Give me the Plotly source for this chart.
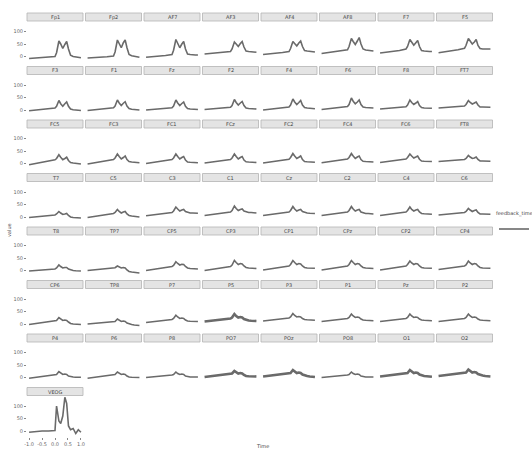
import plotly.graph_objects as go

times = [-1.0, -0.75, -0.5, -0.25, 0.0, 0.06, 0.15, 0.22, 0.3, 0.38, 0.45, 0.52, 0.6, 0.7, 0.8, 0.9, 1.0]

channels = ["Fp1", "Fp2", "AF7", "AF3", "AF4", "AF8", "F7", "F5",
            "F3", "F1", "Fz", "F2", "F4", "F6", "F8", "FT7",
            "FC5", "FC3", "FC1", "FCz", "FC2", "FC4", "FC6", "FT8",
            "T7", "C5", "C3", "C1", "Cz", "C2", "C4", "C6",
            "T8", "TP7", "CP5", "CP3", "CP1", "CPz", "CP2", "CP4",
            "CP6", "TP8", "P7", "P5", "P3", "P1", "Pz", "P2",
            "P4", "P6", "P8", "PO7", "POz", "PO8", "O1", "O2",
            "VEOG"]

values = {
    "Fp1": [-8, -6, -4, -2, 0, 15, 62, 50, 32, 48, 60, 30, 5, 0, -2, -3, -5],
    "Fp2": [-6, -5, -3, -1, 2, 18, 66, 52, 35, 55, 66, 35, 8, 3, 0, -1, -3],
    "AF7": [-3, -1, 1, 4, 8, 25, 68, 55, 35, 50, 60, 30, 10, 8, 6, 6, 6],
    "AF3": [10, 12, 14, 16, 20, 30, 58, 50, 40, 52, 60, 38, 22, 20, 18, 18, 17],
    "AF4": [8, 10, 12, 16, 20, 32, 60, 50, 42, 54, 62, 40, 24, 22, 20, 20, 18],
    "AF8": [12, 15, 18, 22, 27, 40, 72, 60, 48, 62, 76, 50, 30, 26, 24, 22, 22],
    "F7": [14, 17, 20, 24, 30, 40, 68, 58, 45, 55, 64, 40, 24, 22, 20, 20, 20],
    "F5": [15, 18, 22, 27, 33, 45, 72, 62, 50, 58, 68, 44, 32, 30, 30, 30, 30],
    "F3": [-3, 0, 2, 5, 8, 15, 38, 25, 15, 25, 32, 15, 4, 1, 0, -1, -2],
    "F1": [-2, 1, 3, 6, 9, 16, 40, 28, 18, 27, 33, 16, 6, 3, 2, 1, 0],
    "Fz": [0, 2, 4, 6, 9, 16, 40, 28, 18, 26, 32, 15, 6, 4, 3, 3, 2],
    "F2": [2, 4, 6, 8, 11, 18, 42, 30, 20, 28, 34, 18, 8, 6, 5, 5, 4],
    "F4": [0, 3, 6, 9, 12, 20, 44, 32, 22, 30, 38, 20, 10, 8, 6, 6, 5],
    "F6": [2, 5, 8, 11, 14, 22, 48, 35, 25, 32, 40, 22, 12, 10, 9, 8, 8],
    "F8": [4, 6, 8, 10, 13, 20, 40, 30, 22, 28, 34, 18, 10, 8, 8, 7, 7],
    "FT7": [8, 10, 12, 14, 16, 22, 38, 30, 24, 28, 32, 20, 12, 12, 12, 11, 11],
    "FC5": [-5, 0, 5, 10, 15, 20, 35, 25, 15, 20, 25, 12, 4, 2, 0, -1, -2],
    "FC3": [-2, 3, 7, 11, 16, 22, 38, 28, 18, 24, 30, 16, 8, 6, 5, 4, 3],
    "FC1": [0, 4, 8, 12, 16, 22, 38, 28, 18, 24, 28, 14, 6, 5, 4, 4, 3],
    "FCz": [2, 5, 8, 12, 16, 22, 38, 28, 18, 24, 28, 14, 7, 6, 5, 5, 4],
    "FC2": [2, 5, 9, 13, 17, 24, 40, 30, 20, 25, 30, 16, 8, 7, 6, 6, 5],
    "FC4": [3, 6, 10, 14, 18, 24, 40, 30, 20, 26, 30, 16, 9, 8, 7, 7, 6],
    "FC6": [4, 7, 10, 14, 18, 24, 38, 30, 22, 26, 30, 17, 10, 9, 8, 8, 8],
    "FT8": [8, 10, 12, 14, 16, 20, 32, 26, 20, 22, 26, 16, 10, 10, 10, 9, 9],
    "T7": [-2, 0, 2, 5, 8, 12, 22, 16, 10, 12, 14, 6, 0, -2, -3, -4, -4],
    "C5": [-2, 2, 6, 10, 14, 18, 30, 22, 16, 20, 22, 12, 6, 4, 2, 1, 0],
    "C3": [5, 8, 11, 15, 18, 24, 40, 32, 24, 28, 30, 22, 18, 16, 16, 15, 15],
    "C1": [6, 9, 12, 16, 20, 26, 44, 34, 26, 30, 32, 24, 20, 18, 18, 17, 16],
    "Cz": [6, 9, 12, 16, 20, 26, 42, 32, 24, 28, 30, 22, 18, 16, 15, 14, 14],
    "C2": [6, 9, 12, 16, 20, 26, 42, 32, 24, 28, 30, 20, 16, 14, 14, 13, 12],
    "C4": [6, 9, 12, 16, 20, 26, 40, 30, 24, 28, 30, 20, 14, 13, 12, 12, 11],
    "C6": [8, 10, 12, 15, 18, 22, 34, 28, 22, 26, 28, 18, 12, 12, 12, 11, 11],
    "T8": [-2, 0, 2, 4, 6, 10, 22, 16, 10, 12, 12, 6, 2, 0, -1, -2, -2],
    "TP7": [0, 2, 4, 6, 8, 11, 18, 14, 10, 12, 10, 2, -4, -6, -8, -9, -10],
    "CP5": [0, 4, 8, 12, 16, 20, 35, 28, 22, 25, 24, 16, 10, 8, 7, 7, 6],
    "CP3": [0, 4, 8, 12, 16, 22, 40, 32, 24, 28, 26, 18, 12, 10, 9, 8, 8],
    "CP1": [2, 6, 10, 14, 18, 24, 40, 32, 24, 28, 26, 18, 12, 10, 10, 9, 9],
    "CPz": [2, 6, 10, 14, 18, 24, 40, 32, 24, 28, 26, 18, 12, 10, 10, 9, 8],
    "CP2": [2, 6, 10, 14, 18, 24, 38, 30, 24, 28, 26, 18, 12, 10, 10, 9, 9],
    "CP4": [4, 7, 10, 14, 18, 22, 38, 30, 24, 28, 26, 18, 12, 10, 10, 9, 9],
    "CP6": [-2, 2, 5, 8, 11, 14, 26, 20, 14, 16, 14, 8, 2, 0, -1, -2, -2],
    "TP8": [0, 2, 4, 6, 8, 10, 20, 15, 10, 12, 10, 4, 0, -2, -4, -5, -6],
    "P7": [6, 9, 12, 15, 18, 22, 35, 28, 22, 24, 22, 16, 12, 11, 11, 10, 10],
    "P5": [10, 13, 16, 19, 22, 26, 40, 32, 26, 28, 26, 20, 16, 14, 13, 12, 12],
    "P3": [12, 15, 18, 21, 24, 28, 42, 34, 28, 30, 28, 22, 18, 17, 16, 16, 15],
    "P1": [10, 13, 16, 19, 22, 26, 40, 32, 26, 28, 26, 20, 16, 15, 14, 14, 13],
    "Pz": [10, 13, 16, 19, 22, 26, 40, 32, 26, 28, 26, 20, 16, 15, 14, 14, 13],
    "P2": [10, 13, 16, 19, 22, 26, 40, 32, 26, 28, 26, 20, 16, 15, 14, 14, 13],
    "P4": [-3, 0, 3, 6, 9, 12, 24, 18, 12, 14, 12, 6, 3, 2, 1, 1, 1],
    "P6": [-3, 0, 3, 6, 9, 12, 22, 16, 12, 14, 12, 6, 2, 1, 0, 0, 0],
    "P8": [0, 2, 4, 7, 10, 12, 22, 16, 12, 14, 12, 6, 3, 2, 2, 2, 2],
    "PO7": [2, 5, 8, 11, 14, 16, 26, 20, 16, 18, 16, 10, 6, 5, 4, 4, 4],
    "POz": [4, 7, 10, 13, 16, 18, 30, 24, 18, 20, 18, 12, 8, 6, 4, 3, 2],
    "PO8": [0, 2, 4, 7, 10, 12, 22, 16, 12, 14, 12, 6, 3, 2, 2, 2, 2],
    "O1": [4, 7, 10, 13, 16, 18, 30, 24, 18, 20, 18, 12, 8, 6, 5, 4, 3],
    "O2": [6, 9, 12, 15, 18, 20, 32, 26, 20, 22, 20, 14, 10, 8, 6, 5, 4],
    "VEOG": [-5, -2, 0, 0, 2, 100, 40, 30, 60, 135, 110, 20, 5, 10, -10, 5, -5],
}

wide_channels = ["P5", "PO7", "POz", "O1", "O2"]

y_ticks = [0, 50, 100]
x_ticks = [-1.0, -0.5, 0.0, 0.5, 1.0]

W, H = 532, 451
ncol = 8
col_x0, col_pitch, panel_w = 27.0, 58.5, 56.0
row_y0, row_pitch, strip_h, panel_h = 13.0, 53.5, 8.0, 41.0

fig = go.Figure()
shapes, annotations = [], []
layout = {}

for i, ch in enumerate(channels):
    r, c = divmod(i, ncol)
    n = i + 1
    x0 = col_x0 + c * col_pitch
    x1 = x0 + panel_w
    st = row_y0 + r * row_pitch
    pt = st + strip_h
    pb = pt + panel_h
    xa = "x" if n == 1 else f"x{n}"
    ya = "y" if n == 1 else f"y{n}"
    lw = 2.6 if ch in wide_channels else 1.6
    fig.add_trace(go.Scatter(
        x=times, y=values[ch], mode="lines", xaxis=xa, yaxis=ya,
        line=dict(color="#6a6a6a", width=lw),
        name="", showlegend=(i == 0), hoverinfo="skip"))
    is_last = (i == len(channels) - 1)
    layout["xaxis" if n == 1 else f"xaxis{n}"] = dict(
        domain=[x0 / W, x1 / W], anchor=ya, range=[-1.08, 1.08],
        showgrid=False, zeroline=False, showline=False,
        tickvals=x_ticks if is_last else [],
        ticktext=[f"{v:.1f}" for v in x_ticks] if is_last else [],
        ticks="outside" if is_last else "", ticklen=2, tickcolor="#888",
        tickfont=dict(size=5, color="#666"),
        title=dict(text=""))
    layout["yaxis" if n == 1 else f"yaxis{n}"] = dict(
        domain=[1 - pb / H, 1 - pt / H], anchor=xa, range=[-22, 142],
        showgrid=False, zeroline=False, showline=False,
        tickvals=y_ticks if c == 0 else [],
        ticktext=[str(v) for v in y_ticks] if c == 0 else [],
        ticks="outside" if c == 0 else "", ticklen=2, tickcolor="#888",
        tickfont=dict(size=5, color="#666"))
    shapes.append(dict(type="rect", xref="paper", yref="paper",
                       x0=x0 / W, x1=x1 / W, y0=1 - (st + strip_h) / H, y1=1 - st / H,
                       fillcolor="#e4e4e4", line=dict(color="#b4b4b4", width=0.8),
                       layer="below"))
    annotations.append(dict(text=ch, xref="paper", yref="paper",
                            x=(x0 + x1) / 2 / W, y=1 - (st + strip_h / 2) / H,
                            showarrow=False, font=dict(size=5, color="#444"),
                            xanchor="center", yanchor="middle"))

annotations.append(dict(text="value", xref="paper", yref="paper", x=9 / W, y=1 - 230 / H,
                        textangle=-90, showarrow=False, font=dict(size=5, color="#444"),
                        xanchor="center", yanchor="middle"))
annotations.append(dict(text="Time", xref="paper", yref="paper", x=262 / W, y=1 - 446 / H,
                        showarrow=False, font=dict(size=5, color="#444"),
                        xanchor="center", yanchor="middle"))

fig.update_layout(
    width=W, height=H,
    margin=dict(l=0, r=0, t=0, b=0, autoexpand=False),
    paper_bgcolor="white", plot_bgcolor="white",
    font=dict(family="DejaVu Sans", size=5, color="#444"),
    shapes=shapes, annotations=annotations,
    showlegend=True,
    legend=dict(title=dict(text="feedback_time", font=dict(size=5, color="#444")),
                x=494 / W, y=1 - 208 / H, xanchor="left", yanchor="top",
                font=dict(size=5), bgcolor="rgba(0,0,0,0)", itemwidth=30,
                tracegroupgap=0),
    **layout)

fig.write_html("out.html")
